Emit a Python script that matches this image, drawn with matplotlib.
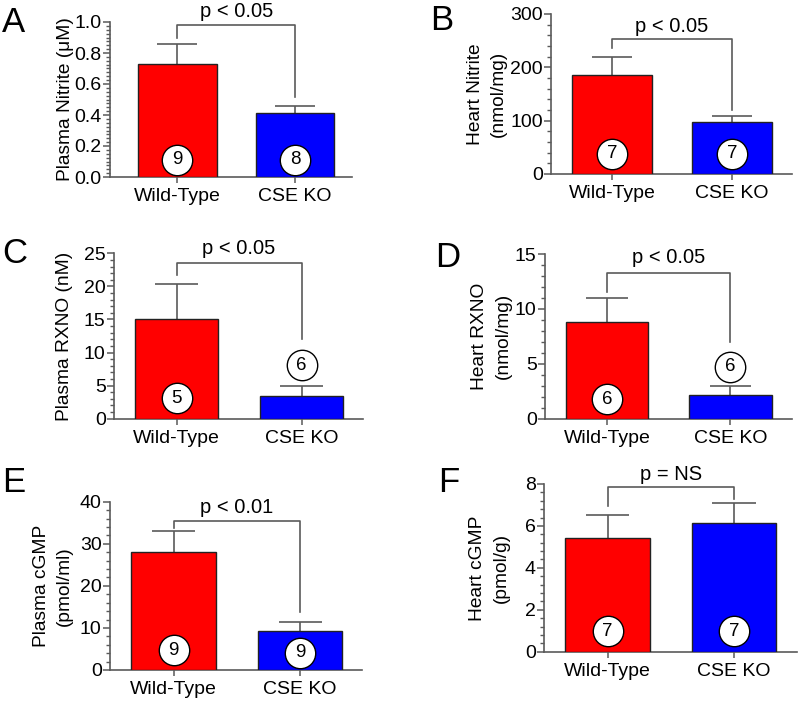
import matplotlib
matplotlib.use("Agg")
import matplotlib.pyplot as plt
from matplotlib.ticker import MultipleLocator

plt.rcParams['font.family'] = ['Liberation Sans', 'DejaVu Sans']

# ---------------- data ----------------
groups = ["Wild-Type", "CSE KO"]
panel_letters = ["A", "B", "C", "D", "E", "F"]
ylabels = ["Plasma Nitrite (\u03bcM)", "Heart Nitrite\n(nmol/mg)", "Plasma RXNO (nM)",
           "Heart RXNO\n(nmol/mg)", "Plasma cGMP\n(pmol/ml)", "Heart cGMP\n(pmol/g)"]
means_A = [0.73, 0.41]
means_B = [185, 98]
means_C = [15.0, 3.4]
means_D = [8.8, 2.2]
means_E = [28.0, 9.3]
means_F = [5.42, 6.12]
sem_A = [0.13, 0.05]
sem_B = [35, 10]
sem_C = [5.4, 1.5]
sem_D = [2.2, 0.8]
sem_E = [5.1, 2.0]
sem_F = [1.11, 0.95]
n_A = [9, 8]
n_B = [7, 7]
n_C = [5, 6]
n_D = [6, 6]
n_E = [9, 9]
n_F = [7, 7]
p_labels = ["p < 0.05", "p < 0.05", "p < 0.05", "p < 0.05", "p < 0.01", "p = NS"]

means = [means_A, means_B, means_C, means_D, means_E, means_F]
sems = [sem_A, sem_B, sem_C, sem_D, sem_E, sem_F]
ns = [n_A, n_B, n_C, n_D, n_E, n_F]

# ---------------- layout / annotation positions ----------------
W, H = 799, 703
# axes rectangles in pixels: (x_left, x_right, y_top, y_bottom)
axes_px = [(110, 352, 22, 177), (551, 792, 14, 174), (114, 363, 253.3, 418.7),
           (545, 792, 254, 418.7), (110, 362, 501.7, 670), (544, 797, 484, 651.7)]
xlims = [(-0.574, 1.485), (-0.508, 1.5), (-0.5, 1.492), (-0.502, 1.498), (-0.502, 1.49), (-0.502, 1.498)]
ylims = [1.0, 300, 25, 15, 40, 8]
major_steps = [0.2, 100, 5, 5, 10, 2]
minor_steps = [0.025, 20, 1, 1, 2, 0.4]
tick_fmt = ["{:.1f}", "{:.0f}", "{:.0f}", "{:.0f}", "{:.0f}", "{:.0f}"]
# right edge (px) of the rotated y label
ylabel_right_px = [74, 507, 73, 512, 73, 510]
# bracket: (top y, left end y, right end y), p text y
brackets = [(0.981, 0.895, 0.518), (254, 236, 120), (23.6, 21.7, 12.1),
            (13.3, 11.5, 7.0), (35.5, 33.7, 13.7), (7.84, 6.97, 7.27)]
p_text_y = [1.07, 276, 25.75, 14.72, 38.7, 8.47]
circle_y = [(0.11, 0.11), (37.5, 37.5), (3.07, 8.1), (1.79, 4.74), (4.75, 4.1), (0.97, 0.97)]
letter_px = [(2, 32), (430, 30), (2, 263), (435, 267), (2, 492), (438, 492)]

bar_colors = ["#FF0000", "#0000FF"]
gray = "#5a5a5a"
bar_w = 0.665
cap_hw = 0.17

fig = plt.figure(figsize=(W / 100, H / 100), dpi=100)

for i in range(6):
    xl, xr, yt, yb = axes_px[i]
    ax = fig.add_axes([xl / W, 1 - yb / H, (xr - xl) / W, (yb - yt) / H])
    x = [0, 1]
    ax.bar(x, means[i], width=bar_w, color=bar_colors, edgecolor="#222222", linewidth=1.0, zorder=3)
    tops = [m + s for m, s in zip(means[i], sems[i])]
    ax.vlines(x, means[i], tops, color=gray, linewidth=1.2, zorder=2)
    ax.hlines(tops, [v - cap_hw for v in x], [v + cap_hw for v in x], color=gray, linewidth=1.2, zorder=2)

    # significance bracket
    bt, bl, br = brackets[i]
    ax.plot([0, 0, 1, 1], [bl, bt, bt, br], color=gray, linewidth=1.2, clip_on=False, zorder=2)
    ax.text(0.5, p_text_y[i], p_labels[i], ha="center", va="center", fontsize=14.5, clip_on=False)

    # n circles
    for j in range(2):
        ax.scatter([x[j]], [circle_y[i][j]], s=480, facecolor="white", edgecolor="black",
                   linewidth=1.0, zorder=4, clip_on=False)
        ax.text(x[j], circle_y[i][j], str(ns[i][j]), ha="center", va="center", fontsize=13.5, zorder=5)

    ax.set_xlim(*xlims[i])
    ax.set_ylim(0, ylims[i])
    ax.yaxis.set_major_locator(MultipleLocator(major_steps[i]))
    ax.yaxis.set_minor_locator(MultipleLocator(minor_steps[i]))
    fmt = tick_fmt[i]
    ax.yaxis.set_major_formatter(matplotlib.ticker.FuncFormatter(lambda v, p, f=fmt: f.format(v)))
    ax.set_xticks(x)
    ax.set_xticklabels(groups, fontsize=14)
    ax.tick_params(axis="y", labelsize=14, direction="out", length=5, width=1.1, color=gray, pad=1)
    ax.tick_params(axis="y", which="minor", direction="out", length=3, width=1.0, color=gray)
    ax.tick_params(axis="x", direction="out", length=4, width=1.1, color=gray, pad=4)
    for side in ["top", "right"]:
        ax.spines[side].set_visible(False)
    for side in ["left", "bottom"]:
        ax.spines[side].set_color(gray)
        ax.spines[side].set_linewidth(1.2)
    ax.set_ylabel(ylabels[i], fontsize=13.8, linespacing=1.5)
    ax.yaxis.set_label_coords((ylabel_right_px[i] - xl) / (xr - xl), 0.5)

    lx, ly = letter_px[i]
    fig.text(lx / W, 1 - ly / H, panel_letters[i], fontsize=25, ha="left", va="baseline")

fig.savefig("out.png", dpi=100)
